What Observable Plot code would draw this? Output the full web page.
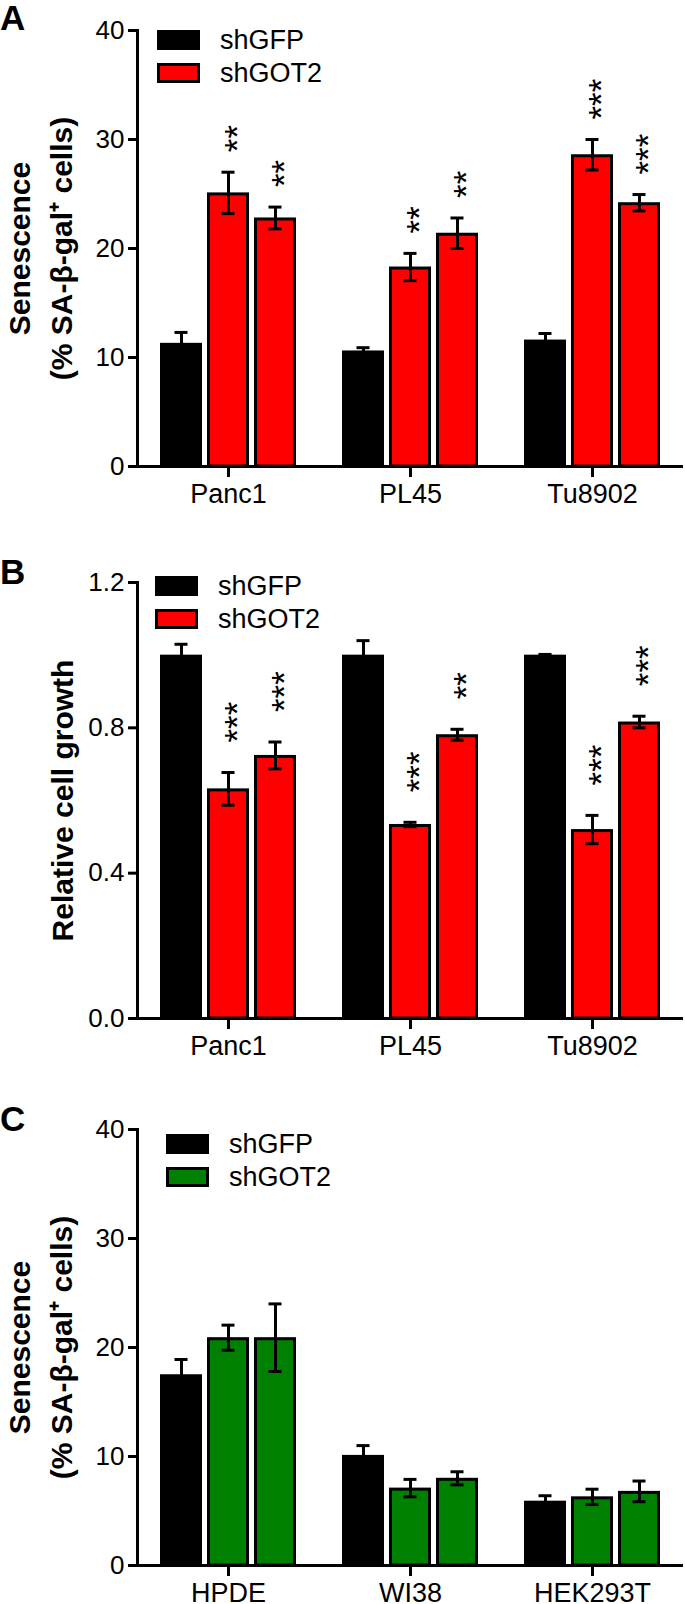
<!DOCTYPE html>
<html>
<head>
<meta charset="utf-8">
<script src="https://cdn.jsdelivr.net/npm/d3@7"></script>
<script src="https://cdn.jsdelivr.net/npm/@observablehq/plot@0.6"></script>
<style>
  html, body { margin: 0; padding: 0; background: #fff; }
  #root { position: relative; width: 685px; height: 1604px; overflow: hidden; font-family: "Liberation Sans", Arial, sans-serif; color: #000; }
  .panel { position: absolute; left: 0; }
  .letter { position: absolute; left: 0; font-weight: bold; font-size: 35px; line-height: 1; }
  .legend { position: absolute; font-size: 27px; }
  .legend .row { display: flex; align-items: center; height: 20px; margin-bottom: 13px; }
  .legend .sw { width: 43px; height: 20px; box-sizing: border-box; border: 3px solid #000; margin-right: 20px; }
  [aria-label="y-axis tick"], [aria-label="y-axis tick"] *,
  [aria-label="x-axis tick"], [aria-label="x-axis tick"] * { stroke-width: 3px; stroke: #000; }
</style>
</head>
<body>
<div id="root"></div>
<script>
// ---- data ----
const subs = ["bar1", "bar2", "bar3"];
const seriesOfSub = ["shGFP", "shGOT2", "shGOT2"];
const legendLabels = ["shGFP", "shGOT2"];

const catsAB = ["Panc1", "PL45", "Tu8902"];
const catsC = ["HPDE", "WI38", "HEK293T"];

// Panel A: Senescence (% SA-β-gal+ cells)
const aMean = [11.3, 25.1, 22.8, 10.6, 18.3, 21.4, 11.6, 28.6, 24.2];
const aErr  = [1.0, 1.9, 1.0, 0.3, 1.25, 1.4, 0.6, 1.4, 0.75];
const aStars = ["", "**", "**", "", "**", "**", "", "***", "***"];
const aTicks = [0, 10, 20, 30, 40];

// Panel B: Relative cell growth
const bMean = [1.0, 0.632, 0.724, 1.0, 0.534, 0.781, 1.0, 0.520, 0.816];
const bErr  = [0.03, 0.045, 0.037, 0.04, 0.006, 0.015, 0.002, 0.039, 0.016];
const bStars = ["", "***", "***", "", "***", "**", "", "***", "***"];
const bTicks = [0, 0.4, 0.8, 1.2];

// Panel C: Senescence (% SA-β-gal+ cells)
const cMean = [17.5, 20.9, 20.9, 10.1, 7.1, 8.0, 5.9, 6.3, 6.8];
const cErr  = [1.4, 1.15, 3.1, 0.9, 0.8, 0.6, 0.5, 0.7, 0.95];
const cStars = ["", "", "", "", "", "", "", "", ""];
const cTicks = [0, 10, 20, 30, 40];

const titleSen = "Senescence\n(% SA-β-gal⁺ cells)";
const titleGrowth = "Relative cell growth";

// ---- build ----
function rows(cats, means, errs, stars) {
  return means.map((m, i) => ({
    cat: cats[Math.floor(i / 3)], sub: subs[i % 3], series: seriesOfSub[i % 3],
    mean: m, err: errs[i], star: stars[i]
  }));
}

const FONT = '"Liberation Sans", Arial, sans-serif';

function panel({cats, data, domain, ticks, tickFormat, color, title, titleDx, starDy}) {
  const err = {fx: "cat", x: "sub"};
  return Plot.plot({
    width: 685, height: 520,
    marginTop: 30, marginBottom: 54, marginLeft: 136, marginRight: 1,
    style: {fontFamily: FONT, fontSize: "26px", color: "#000", background: "transparent", overflow: "visible"},
    fx: {domain: cats, paddingInner: 0, paddingOuter: 0, axis: null, label: null},
    x: {domain: subs, paddingInner: 0.104, paddingOuter: 0.451, axis: null},
    y: {domain, axis: null},
    color: {domain: legendLabels, range: ["#000000", color]},
    marks: [
      Plot.barY(data, {fx: "cat", x: "sub", y: "mean", fill: "series", stroke: "#000", strokeWidth: 3,
        insetLeft: 1.5, insetRight: 1.5, insetTop: 1.5}),
      Plot.ruleX(data, {...err, y1: d => d.mean - d.err, y2: d => d.mean + d.err, stroke: "#000", strokeWidth: 3}),
      Plot.tickY(data, {...err, y: d => d.mean + d.err, stroke: "#000", strokeWidth: 3, insetLeft: 14.5, insetRight: 14.5}),
      Plot.tickY(data, {...err, y: d => d.mean - d.err, stroke: "#000", strokeWidth: 3, insetLeft: 14.5, insetRight: 14.5}),
      Plot.ruleY([domain[0]], {stroke: "#000", strokeWidth: 3}),
      // category tick marks below the x axis (the centre bar of each group sits on the category centre)
      Plot.axisX({ticks: [subs[1]], tickSize: 11, tickFormat: () => "", strokeWidth: 3, label: null}),
      Plot.frame({anchor: "left", facetAnchor: "left", stroke: "#000", strokeWidth: 3}),
      Plot.text(data.filter(d => d.star), {...err, y: d => d.mean + d.err, text: "star", rotate: -90,
        textAnchor: "start", lineAnchor: "middle", dy: -starDy, dx: 9, fontSize: 35, fill: "#000"}),
      Plot.axisY({ticks, tickFormat, tickSize: 9, tickPadding: 4, fontSize: 26, strokeWidth: 3, label: null}),
      Plot.axisFx({anchor: "bottom", tickSize: 0, tickPadding: 17, fontSize: 27, label: null}),
      Plot.text([{cat: cats[0], t: title}], {fx: "cat", text: "t", frameAnchor: "left", rotate: -90,
        textAnchor: "middle", lineAnchor: "middle",
        dx: titleDx, fontWeight: "bold", fontSize: 30, lineHeight: 1.4, fill: "#000"})
    ]
  });
}

const root = document.getElementById("root");

function addPanel(top, letter, letterTop, svg, legendLeft, legendTop, color) {
  const div = document.createElement("div");
  div.className = "panel";
  div.style.top = top + "px";
  div.appendChild(svg);
  root.appendChild(div);

  const l = document.createElement("div");
  l.className = "letter";
  l.style.top = letterTop + "px";
  l.textContent = letter;
  root.appendChild(l);

  const lg = document.createElement("div");
  lg.className = "legend";
  lg.style.left = legendLeft + "px";
  lg.style.top = legendTop + "px";
  legendLabels.forEach((lab, i) => {
    const r = document.createElement("div");
    r.className = "row";
    const sw = document.createElement("div");
    sw.className = "sw";
    sw.style.background = i === 0 ? "#000" : color;
    const t = document.createElement("span");
    t.textContent = lab;
    r.appendChild(sw); r.appendChild(t);
    lg.appendChild(r);
  });
  root.appendChild(lg);
}

const RED = "#ff0000";
const GREEN = "#008000";

addPanel(0, "A", 0,
  panel({cats: catsAB, data: rows(catsAB, aMean, aErr, aStars), domain: [0, 40], ticks: aTicks,
    tickFormat: d3.format("d"), color: RED, title: titleSen, titleDx: -100, starDy: 20}),
  157, 30, RED);

addPanel(552, "B", 554,
  panel({cats: catsAB, data: rows(catsAB, bMean, bErr, bStars), domain: [0, 1.2], ticks: bTicks,
    tickFormat: d3.format(".1f"), color: RED, title: titleGrowth, titleDx: -78, starDy: 30}),
  155, 576, RED);

addPanel(1099, "C", 1101,
  panel({cats: catsC, data: rows(catsC, cMean, cErr, cStars), domain: [0, 40], ticks: cTicks,
    tickFormat: d3.format("d"), color: GREEN, title: titleSen, titleDx: -100, starDy: 20}),
  166, 1134, GREEN);
</script>
</body>
</html>
